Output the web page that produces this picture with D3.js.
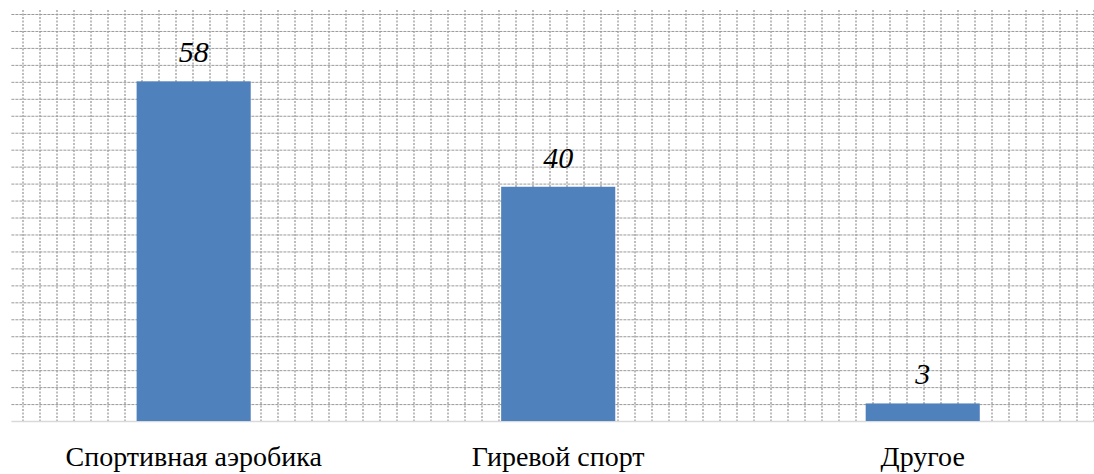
<!DOCTYPE html>
<html><head><meta charset="utf-8">
<script src="https://cdn.jsdelivr.net/npm/d3@7"></script>
<style>
@font-face { font-family: 'ChartSerif'; font-style: normal; src: local('Liberation Serif'), local('LiberationSerif'), local('Times New Roman'); }
@font-face { font-family: 'ChartSerif'; font-style: italic; src: local('Liberation Serif Italic'), local('LiberationSerif-Italic'), local('Times New Roman Italic'); }
</style>
</head><body style="margin:0">
<svg id="chart" width="1094" height="474" style="display:block"></svg>
<script>
const categories = ["Спортивная аэробика", "Гиревой спорт", "Другое"];
const values = [58, 40, 3];
const valueLabels = ["58", "40", "3"];

const svg = d3.select("#chart");
const W = 1094, H = 474;
const plot = {left: 11.4, right: 1105, top: 10, bottom: 421};

const x = d3.scaleBand().domain(categories).range([plot.left, plot.right]).paddingInner(0.687).paddingOuter(0.3435);
const y = d3.scaleLinear().domain([0, 69.5]).range([plot.bottom, 14]);

// pattern-like dotted grid
const g = svg.append("g");
const step = 16.96;
const hLines = d3.range(0, 24).map(i => 14 + i * step);
g.selectAll("line.h").data(hLines).join("line")
  .attr("x1", plot.left).attr("x2", W).attr("y1", d => d + 0.5).attr("y2", d => d + 0.5)
  .attr("stroke", "#9a9a9a").attr("stroke-width", 1).attr("stroke-dasharray", "3,1");
const vLines = d3.range(0, 64).map(i => 23 + i * 17.0);
g.selectAll("line.v").data(vLines).join("line")
  .attr("x1", d => d).attr("x2", d => d).attr("y1", plot.top).attr("y2", plot.bottom)
  .attr("stroke", "#9a9a9a").attr("stroke-width", 1.3).attr("stroke-dasharray", "2,1.5");

// baseline
svg.append("line").attr("x1", plot.left).attr("x2", W).attr("y1", plot.bottom + 0.5).attr("y2", plot.bottom + 0.5)
  .attr("stroke", "#d9d9d9").attr("stroke-width", 1.5);

// bars
svg.selectAll("rect.bar").data(values).join("rect")
  .attr("x", (d, i) => x(categories[i]))
  .attr("width", x.bandwidth())
  .attr("y", d => y(d))
  .attr("height", d => y(0) - y(d))
  .attr("fill", "#4F81BD");

// value labels
svg.selectAll("text.val").data(values).join("text")
  .attr("x", (d, i) => x(categories[i]) + x.bandwidth() / 2)
  .attr("y", d => y(d) - 19)
  .attr("text-anchor", "middle")
  .style("font-family", "'Liberation Serif', ChartSerif, 'Times New Roman', serif")
  .style("font-style", "italic")
  .style("font-size", "30px")
  .text((d, i) => valueLabels[i]);

// category labels
svg.selectAll("text.cat").data(categories).join("text")
  .attr("x", d => x(d) + x.bandwidth() / 2)
  .attr("y", 466)
  .attr("text-anchor", "middle")
  .style("font-family", "'Liberation Serif', ChartSerif, 'Times New Roman', serif")
  .style("font-size", "28px")
  .text(d => d);
</script>
</body></html>
